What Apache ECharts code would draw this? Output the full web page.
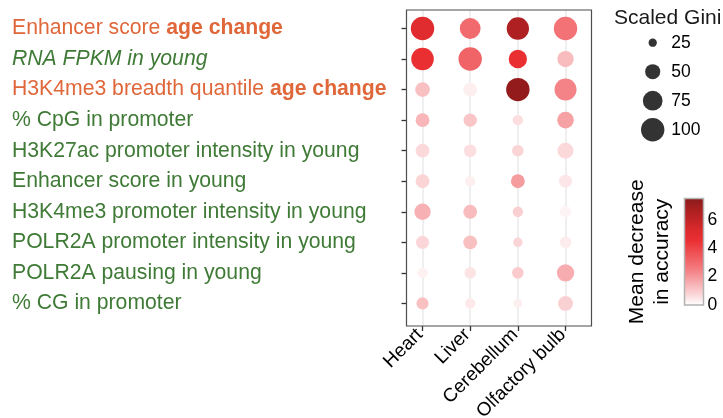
<!DOCTYPE html>
<html>
<head>
<meta charset="utf-8">
<script src="https://cdn.jsdelivr.net/npm/echarts@6/dist/echarts.min.js"></script>
<style>
  html, body { margin: 0; padding: 0; background: #ffffff; }
  #chart { width: 723px; height: 418px; }
</style>
</head>
<body>
<div id="chart"></div>
<script>
// Tissues (columns) and predictive features (rows, top to bottom)
const tissues = ['Heart', 'Liver', 'Cerebellum', 'Olfactory bulb'];
const featureNames = [
  'Enhancer score ',
  'RNA FPKM in young',
  'H3K4me3 breadth quantile ',
  '% CpG in promoter',
  'H3K27ac promoter intensity in young',
  'Enhancer score in young',
  'H3K4me3 promoter intensity in young',
  'POLR2A promoter intensity in young',
  'POLR2A pausing in young',
  '% CG in promoter'
];
// 'age' = age-change feature (orange, bold suffix), 'young' = young-state feature (green)
const featureKinds = ['age', 'youngItalic', 'age', 'young', 'young', 'young', 'young', 'young', 'young', 'young'];

// Scaled Gini importance, one array per tissue, in feature order
const giniHeart      = [100, 94, 48, 44, 44, 44, 56, 41, 31, 37];
const giniLiver      = [82, 100, 44, 42, 39, 31, 44, 44, 35, 31];
const giniCerebellum = [92, 67, 100, 31, 35, 44, 31, 28, 35, 26];
const giniOlfactory  = [100, 56, 90, 57, 54, 41, 35, 35, 61, 49];

// Mean decrease in accuracy, one array per tissue, in feature order
const accHeart      = [5.0, 4.6, 1.2, 1.4, 0.7, 0.8, 1.5, 0.75, 0.25, 1.2];
const accLiver      = [3.0, 3.2, 0.3, 1.1, 0.6, 0.3, 1.3, 1.2, 0.5, 0.4];
const accCerebellum = [6.6, 4.6, 7.3, 0.6, 0.8, 1.9, 0.9, 0.8, 1.0, 0.3];
const accOlfactory  = [2.8, 1.3, 2.4, 1.8, 0.7, 0.45, 0.2, 0.35, 1.6, 0.85];

// Legend breaks
const giniBreaks = [25, 50, 75, 100];
const accuracyTicks = [0, 2, 4, 6];

const giniByTissue = [giniHeart, giniLiver, giniCerebellum, giniOlfactory];
const accByTissue = [accHeart, accLiver, accCerebellum, accOlfactory];

const points = [];
tissues.forEach((t, ti) => {
  featureNames.forEach((f, fi) => {
    points.push([ti, fi, giniByTissue[ti][fi], accByTissue[ti][fi]]);
  });
});

// Circle area grows linearly with the scaled Gini value
function dotSize(v) {
  return 1.04 * Math.sqrt(Math.max(9, 64 + 5.9 * (v - 25)));
}

const ORANGE = '#e0673a';
const GREEN = '#3f7a36';
const FONT = '"Liberation Sans", Arial, Helvetica, sans-serif';

function featureLabel(idx) {
  const name = featureNames[idx];
  const kind = featureKinds[idx];
  if (kind === 'age') return '{o|' + name + '}{ob|age change}';
  if (kind === 'youngItalic') return '{gi|' + name + '}';
  return '{g|' + name + '}';
}

const rowIdx = featureNames.map((_, i) => i);
const colIdx = tissues.map((_, i) => i);

const chart = echarts.init(document.getElementById('chart'), null, { renderer: 'canvas' });

chart.setOption({
  animation: false,
  backgroundColor: '#ffffff',
  textStyle: { fontFamily: FONT },
  title: {
    text: 'Scaled Gini',
    left: 609,
    top: 3,
    textStyle: { fontSize: 21, fontWeight: 'normal', color: '#1a1a1a', fontFamily: FONT }
  },
  grid: [
    // main dot panel
    { left: 406.5, top: 10, width: 185, height: 316, outerBoundsMode: 'none', show: true, borderColor: '#4d4d4d', borderWidth: 1.2, backgroundColor: 'transparent', z: 5 },
    // size legend
    { left: 642.7, top: 28.2, width: 20, height: 116, outerBoundsMode: 'none' },
    // colour bar
    { left: 684.5, top: 198.5, width: 19, height: 106.5, outerBoundsMode: 'none', show: true, borderColor: '#b3b3b3', borderWidth: 1.5, backgroundColor: 'transparent', z: 10 },
    // vertical guide lines through the tissue columns
    { left: 422.5, top: 10, width: 143, height: 316, outerBoundsMode: 'none' }
  ],
  xAxis: [
    {
      gridIndex: 0, type: 'value', min: -0.336, max: 3.545,
      axisLine: { show: false, onZero: false },
      axisTick: { show: true, customValues: colIdx, length: 5, lineStyle: { color: '#333333', width: 1.3 } },
      axisLabel: {
        customValues: colIdx, rotate: 45, margin: 3, fontSize: 19, color: '#000000',
        align: 'right', verticalAlign: 'middle', padding: [0, 4, 0, 0],
        formatter: v => tissues[Math.round(v)]
      },
      splitLine: { show: false }
    },
    { gridIndex: 1, type: 'value', min: -1, max: 1, show: false },
    { gridIndex: 2, type: 'value', min: 0, max: 1, show: false },
    {
      gridIndex: 3, type: 'category', data: tissues, boundaryGap: false,
      axisLine: { show: false }, axisTick: { show: false }, axisLabel: { show: false },
      splitLine: { show: true, interval: 0, lineStyle: { color: '#ebebeb', width: 1.6 } }
    }
  ],
  yAxis: [
    {
      gridIndex: 0, type: 'value', inverse: true, min: -0.606, max: 9.74,
      axisLine: { show: false, onZero: false },
      axisTick: { show: true, customValues: rowIdx, length: 5, lineStyle: { color: '#333333', width: 1.3 } },
      axisLabel: {
        customValues: rowIdx, align: 'left', margin: 394.5,
        formatter: v => featureLabel(Math.round(v)),
        rich: {
          o:  { color: ORANGE, fontSize: 21.2, fontFamily: FONT },
          ob: { color: ORANGE, fontSize: 21.2, fontWeight: 'bold', fontFamily: FONT },
          g:  { color: GREEN, fontSize: 21.2, fontFamily: FONT },
          gi: { color: GREEN, fontSize: 21.2, fontStyle: 'italic', fontFamily: FONT }
        }
      },
      splitLine: { show: false }
    },
    {
      gridIndex: 1, type: 'category', inverse: true, position: 'right',
      data: giniBreaks.map(String),
      axisLine: { show: false }, axisTick: { show: false },
      axisLabel: { margin: 8.5, fontSize: 17.5, color: '#000000' }
    },
    {
      gridIndex: 2, type: 'value', min: 0, max: 7.5, position: 'left',
      name: 'Mean decrease\nin accuracy', nameLocation: 'middle', nameRotate: 90, nameGap: 10,
      nameTextStyle: { fontSize: 21, color: '#000000', lineHeight: 25, align: 'center' },
      axisLine: { show: false, onZero: false },
      axisTick: { show: true, inside: true, customValues: accuracyTicks, length: 3, lineStyle: { color: '#ffffff', width: 1 } },
      axisLabel: { show: false },
      splitLine: { show: false }
    },
    {
      gridIndex: 2, type: 'value', min: 0, max: 7.5, position: 'right',
      axisLine: { show: false, onZero: false },
      axisTick: { show: true, inside: true, customValues: accuracyTicks, length: 3, lineStyle: { color: '#ffffff', width: 1 } },
      axisLabel: { customValues: accuracyTicks, margin: 4, fontSize: 17.5, color: '#000000' },
      splitLine: { show: false }
    },
    { gridIndex: 3, type: 'value', min: 0, max: 1, show: false }
  ],
  visualMap: {
    type: 'continuous',
    seriesIndex: 0,
    dimension: 3,
    min: 0,
    max: 7.5,
    calculable: false,
    hoverLink: false,
    left: 684.5,
    top: 198.5,
    itemWidth: 19,
    itemHeight: 106.5,
    padding: 0,
    text: null,
    inRange: {
      color: ['#ffffff', '#fbd6d8', '#f7b1b4', '#f4898d', '#f16a6e', '#ee4e52',
              '#ec3034', '#dc2a2d', '#c22426', '#a91f20', '#8b1a1a']
    }
  },
  series: [
    {
      type: 'scatter',
      xAxisIndex: 0, yAxisIndex: 0,
      data: points,
      symbol: 'circle',
      symbolSize: v => dotSize(v[2]),
      itemStyle: { opacity: 1 },
      z: 3
    },
    {
      type: 'scatter',
      xAxisIndex: 1, yAxisIndex: 1,
      data: giniBreaks.map(g => [0, String(g), g]),
      symbol: 'circle',
      symbolSize: v => dotSize(v[2]),
      itemStyle: { color: '#000000' }
    }
  ]
});
</script>
</body>
</html>
